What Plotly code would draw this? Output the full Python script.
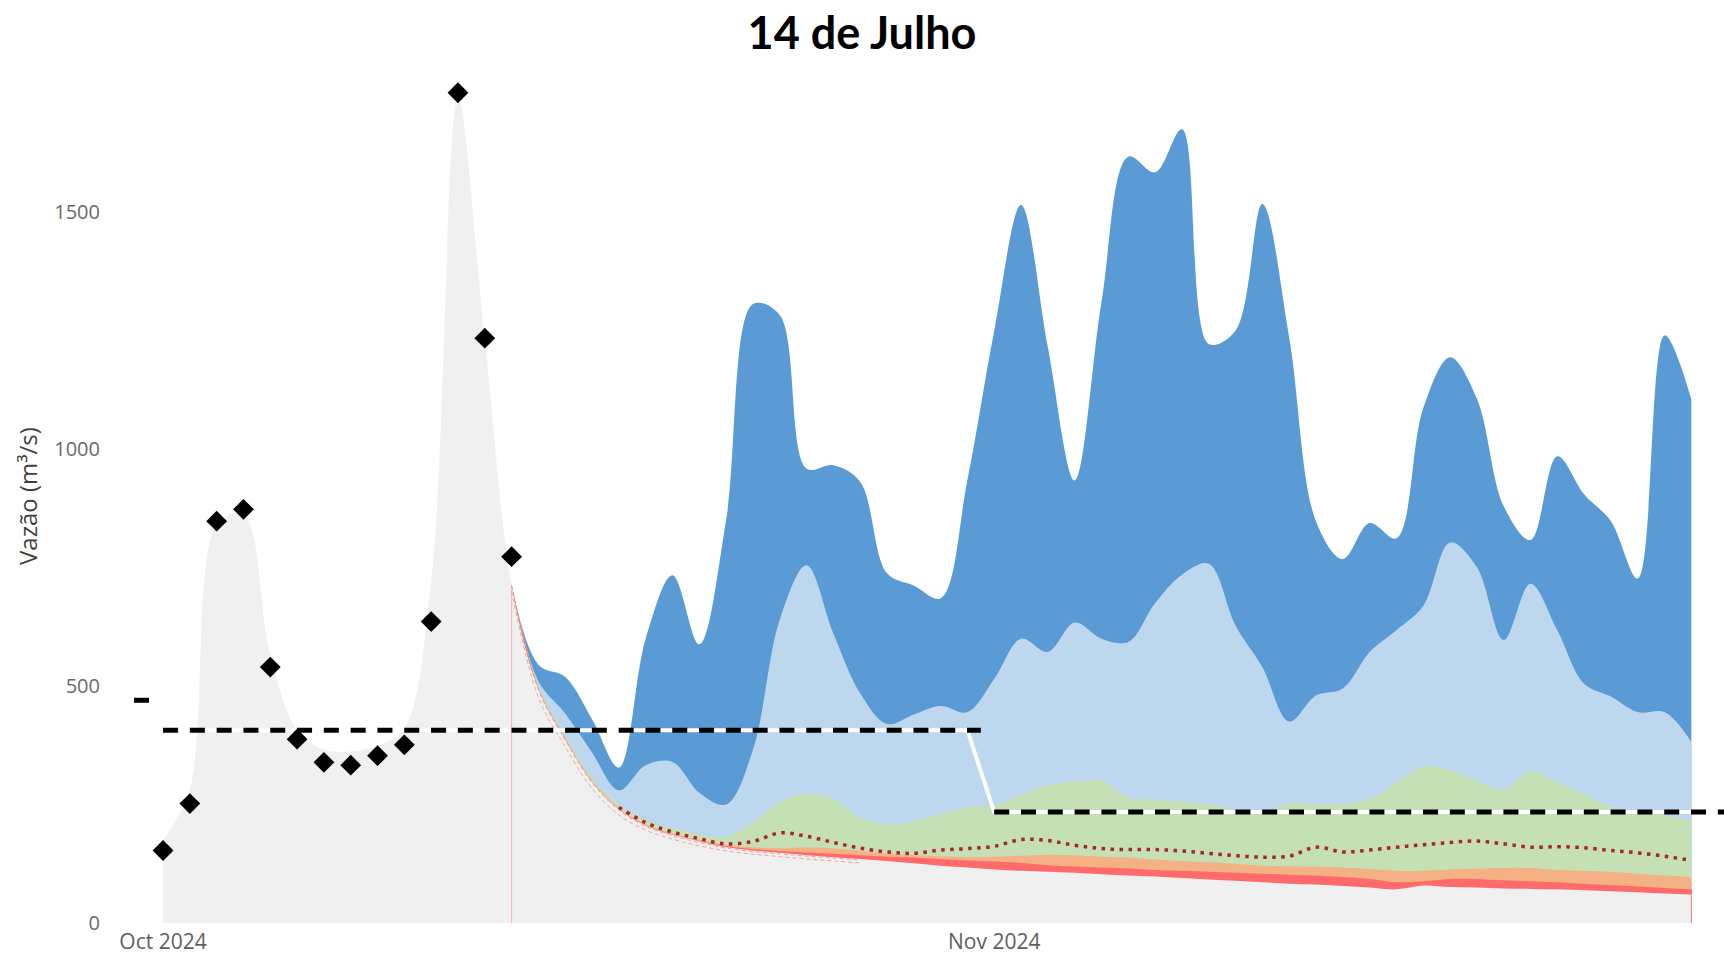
import plotly.graph_objects as go
import pandas as pd

# ---------------- data ----------------
dates_all = pd.date_range("2024-10-01", periods=58, freq="D")   # Oct 1 .. Nov 27
obs_dates = dates_all[:14]                                       # Oct 1 .. Oct 14
fc_dates = dates_all[13:]                                        # Oct 14 .. Nov 27
pink_dates = dates_all[13:27]                                    # Oct 14 .. Oct 27

observed = [153, 252, 848, 873, 540, 388, 339, 333, 353, 376, 636, 1752, 1234, 773]

# grey background series (observed period, Oct 1 .. Oct 13)
gray_obs = [175, 283, 840, 862, 565, 407, 366, 362, 374, 411, 720, 1740, 1230]

# forecast envelopes, Oct 14 .. Nov 27
fc_min = [713, 494, 388, 298, 240, 206, 186, 172, 160, 153,
          148, 143, 139, 135, 131, 126, 121, 117, 113, 110,
          108, 106, 103, 100, 98, 95, 92, 89, 86, 83,
          81, 78, 75, 71, 79, 76, 75, 73, 72, 71,
          69, 67, 65, 62, 60]
fc_p10 = [713, 495, 389, 299, 241, 207, 187, 173, 162, 156,
          152, 149, 146, 143, 140, 138, 135, 132, 130, 127,
          122, 119, 117, 115, 112, 110, 108, 106, 104, 102,
          100, 97, 93, 86, 88, 93, 93, 90, 88, 86,
          83, 80, 77, 74, 71]
fc_p25 = [713, 496, 390, 300, 242, 208, 189, 176, 165, 160,
          158, 160, 157, 152, 146, 143, 141, 139, 140, 142,
          144, 143, 140, 138, 134, 131, 128, 125, 121, 120,
          119, 117, 114, 110, 110, 113, 115, 116, 116, 112,
          110, 108, 104, 100, 97]
fc_median = [713, 498, 391, 301, 244, 212, 192, 178, 167, 172,
             190, 183, 170, 158, 150, 147, 154, 157, 162, 176,
             174, 164, 157, 155, 155, 152, 147, 142, 139, 141,
             160, 150, 154, 160, 165, 170, 173, 167, 160, 161,
             159, 153, 148, 141, 132]
fc_p75 = [713, 500, 395, 305, 250, 218, 200, 188, 182, 212,
          255, 273, 262, 222, 208, 215, 230, 245, 248, 270,
          290, 298, 300, 265, 260, 256, 250, 240, 230, 252,
          250, 252, 262, 295, 330, 322, 300, 281, 320, 297,
          272, 245, 236, 228, 217]
fc_p90 = [713, 510, 442, 360, 280, 333, 340, 275, 250, 365,
          640, 755, 611, 485, 420, 440, 458, 445, 515, 600,
          572, 634, 600, 593, 675, 735, 758, 628, 540, 425,
          480, 495, 572, 618, 669, 803, 751, 597, 716, 618,
          505, 478, 445, 445, 382]
fc_max = [713, 545, 519, 430, 328, 600, 734, 588, 850, 1306,
          1283, 959, 966, 931, 738, 712, 685, 935, 1250, 1515,
          1215, 934, 1310, 1617, 1584, 1675, 1222, 1250, 1517, 1236,
          848, 768, 844, 812, 1086, 1194, 1107, 880, 808, 985,
          905, 848, 727, 1240, 1105]

# faint recession curves at the start of the forecast
recess_a = [713, 492, 386, 296, 238, 204, 184, 170, 158, 151, 146, 141, 137, 133]
recess_b = [700, 476, 372, 284, 228, 196, 177, 163, 152, 145, 140, 135, 131, 127]

# monthly reference flow (step line)
ref_x = ["2024-09-29 22:00", "2024-09-30 12:00", "2024-10-01", "2024-10-31",
         "2024-11-01", "2024-11-28 06:00"]
ref_y = [470, 470, 407, 407, 234, 234]
ref_dash_x = ["2024-09-29 22:00", "2024-09-30 12:00", None,
              "2024-10-01", "2024-10-31 12:00", None,
              "2024-11-01", "2024-11-28 06:00"]
ref_dash_y = [470, 470, None, 407, 407, None, 234, 234]

y_ticks = [0, 500, 1000, 1500]
x_ticks = ["2024-10-01", "2024-11-01"]
x_ticktext = ["Oct 2024", "Nov 2024"]

# ---------------- figure ----------------
C_DARK = "#5b9bd5"
C_LIGHT = "#bdd7ee"
C_GREEN = "#c5e0b4"
C_ORANGE = "#f4b183"
C_RED = "#ff6b6b"
C_GRAY = "#f0f0f0"

fig = go.Figure()

def area(x, y, color):
    fig.add_trace(go.Scatter(
        x=x, y=y, mode="lines", fill="tozeroy", fillcolor=color,
        line=dict(width=0, shape="spline", smoothing=1.0, color=color),
        hoverinfo="skip", showlegend=False))

area(fc_dates, fc_max, C_DARK)
area(fc_dates, fc_p90, C_LIGHT)
area(fc_dates, fc_p75, C_GREEN)
area(fc_dates, fc_p25, C_ORANGE)
area(fc_dates, fc_p10, C_RED)
area(dates_all, gray_obs + fc_min, C_GRAY)

# faint pink recession lines
for rec in (recess_a, recess_b):
    fig.add_trace(go.Scatter(
        x=pink_dates, y=rec, mode="lines",
        line=dict(color="rgba(240,110,110,0.6)", width=1, dash="4px,3px",
                  shape="spline"),
        hoverinfo="skip", showlegend=False))

# forecast start marker & end marker
fig.add_trace(go.Scatter(
    x=[fc_dates[0], fc_dates[0]], y=[0, fc_min[0]], mode="lines",
    line=dict(color="rgba(245,150,150,0.6)", width=1),
    hoverinfo="skip", showlegend=False))
fig.add_trace(go.Scatter(
    x=[fc_dates[-1], fc_dates[-1]], y=[0, fc_p10[-1]], mode="lines",
    line=dict(color="rgba(235,100,100,0.7)", width=1),
    hoverinfo="skip", showlegend=False))

# median (dotted) - visible once it separates from the recession
fig.add_trace(go.Scatter(
    x=fc_dates[4:], y=fc_median[4:], mode="lines",
    line=dict(color="#a5262e", width=3.5, dash="3.5px,5.5px", shape="spline"),
    hoverinfo="skip", showlegend=False))

# reference flow: white base + black dashes
fig.add_trace(go.Scatter(
    x=ref_x, y=ref_y, mode="lines",
    line=dict(color="white", width=4),
    hoverinfo="skip", showlegend=False))
fig.add_trace(go.Scatter(
    x=ref_dash_x, y=ref_dash_y, mode="lines", connectgaps=False,
    line=dict(color="black", width=5, dash="15px,11.8px"),
    hoverinfo="skip", showlegend=False))

# observed diamonds
fig.add_trace(go.Scatter(
    x=obs_dates, y=observed, mode="markers",
    marker=dict(symbol="diamond", size=16, color="black",
                line=dict(width=0)),
    hoverinfo="skip", showlegend=False))

FONT = "Segoe UI, Open Sans, sans-serif"

fig.update_layout(
    width=1724, height=954,
    margin=dict(l=134, r=0, t=70, b=31),
    paper_bgcolor="white", plot_bgcolor="white",
    showlegend=False, hovermode=False,
    title=dict(text="<b>14 de Julho</b>", x=0.5, xref="container",
               y=1 - 33 / 954, yref="container", xanchor="center", yanchor="middle",
               font=dict(family="Lato, Carlito, sans-serif", size=45, color="black")),
    xaxis=dict(type="date", range=["2024-09-29 22:00", "2024-11-28 05:15"],
               tickvals=x_ticks, ticktext=x_ticktext,
               showgrid=False, zeroline=False, showline=False, ticks="",
               ticklabelstandoff=4,
               tickfont=dict(family=FONT, size=21, color="#5f5f5f")),
    yaxis=dict(range=[0, 1800], tickvals=y_ticks,
               showgrid=False, zeroline=False, showline=False, ticks="",
               ticklabelstandoff=33,
               tickfont=dict(family=FONT, size=20, color="#6a6a6a")),
    annotations=[dict(text="Vazão (m³/s)", textangle=-90, showarrow=False,
                      xref="paper", yref="paper", x=(27.5 - 134) / 1590, y=0.5,
                      xanchor="center", yanchor="middle",
                      font=dict(family=FONT, size=24, color="#404040"))],
)

fig.write_html("out.html",
               config={"displayModeBar": False},
               post_script="document.body.style.margin='0';document.body.style.overflow='hidden';")
